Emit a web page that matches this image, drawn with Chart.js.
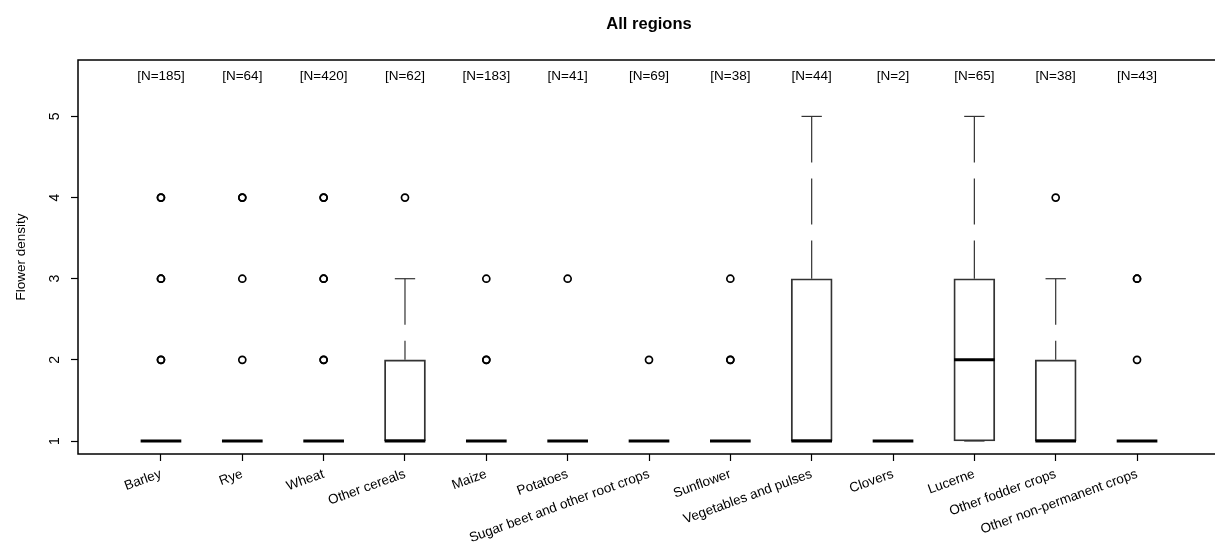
<!DOCTYPE html>
<html>
<head>
<meta charset="utf-8">
<title>All regions</title>
<script src="https://cdn.jsdelivr.net/npm/chart.js@4.4.1/dist/chart.umd.min.js"></script>
<style>
  html, body { margin: 0; padding: 0; background: #fff; overflow: hidden; }
  #wrap { position: relative; width: 1240px; height: 546px; }
</style>
</head>
<body>
<div id="wrap"><canvas id="boxChart"></canvas></div>
<script>
// Flower density by crop, all regions
const chartTitle = 'All regions';
const categories = ["Barley", "Rye", "Wheat", "Other cereals", "Maize", "Potatoes",
    "Sugar beet and other root crops", "Sunflower", "Vegetables and pulses", "Clovers",
    "Lucerne", "Other fodder crops", "Other non-permanent crops"];
const counts = [185, 64, 420, 62, 183, 41, 69, 38, 44, 2, 65, 38, 43];
const whiskerLow = [1, 1, 1, 1, 1, 1, 1, 1, 1, 1, 1, 1, 1];
const q1 = [1, 1, 1, 1, 1, 1, 1, 1, 1, 1, 1, 1, 1];
const medians = [1, 1, 1, 1, 1, 1, 1, 1, 1, 1, 2, 1, 1];
const q3 = [1, 1, 1, 2, 1, 1, 1, 1, 3, 1, 3, 2, 1];
const whiskerHigh = [1, 1, 1, 3, 1, 1, 1, 1, 5, 1, 5, 3, 1];
// repeated values overplot and show up darker
const outliers = [[2, 2, 3, 3, 4, 4], [2, 3, 4, 4], [2, 2, 3, 3, 4, 4], [4], [2, 2, 3], [3], [2],
    [2, 2, 3], [], [], [], [4], [2, 3, 3]];
const yTicks = [1, 2, 3, 4, 5];
const countLabelY = 5.5;

const FONT = "'Liberation Sans', Arial, Helvetica, sans-serif";
Chart.defaults.font.family = FONT;
Chart.defaults.color = '#000';

const boxPlot = {
    id: 'boxPlot',
    afterDatasetsDraw(chart) {
        const { ctx, scales: { x, y } } = chart;
        ctx.save();
        categories.forEach((name, i) => {
            const pos = i + 1;
            const cx = x.getPixelForValue(pos);
            const halfBox = x.getPixelForValue(pos + 0.25) - cx;
            const halfCap = halfBox / 2;

            // dashed whiskers, drawn from the whisker end towards the box
            ctx.strokeStyle = '#333';
            ctx.lineWidth = 1.2;
            ctx.setLineDash([46, 16]);
            [[whiskerHigh[i], q3[i]], [whiskerLow[i], q1[i]]].forEach(([end, edge]) => {
                if (end === edge) return;
                ctx.beginPath();
                ctx.moveTo(cx, y.getPixelForValue(end));
                ctx.lineTo(cx, y.getPixelForValue(edge));
                ctx.stroke();
            });
            ctx.setLineDash([]);

            // staples
            [whiskerHigh[i], whiskerLow[i]].forEach(v => {
                const py = y.getPixelForValue(v);
                ctx.beginPath();
                ctx.moveTo(cx - halfCap, py);
                ctx.lineTo(cx + halfCap, py);
                ctx.stroke();
            });

            // median
            ctx.strokeStyle = '#000';
            ctx.lineWidth = 3;
            const my = y.getPixelForValue(medians[i]);
            ctx.beginPath();
            ctx.moveTo(cx - halfBox, my);
            ctx.lineTo(cx + halfBox, my);
            ctx.stroke();

            // sample size above each box
            ctx.fillStyle = '#000';
            ctx.font = `13.5px ${FONT}`;
            ctx.textAlign = 'center';
            ctx.textBaseline = 'middle';
            ctx.fillText(`[N=${counts[i]}]`, cx, y.getPixelForValue(countLabelY));
        });
        ctx.restore();
    },
    afterDraw(chart) {
        const { ctx, chartArea: a } = chart;
        ctx.save();
        ctx.strokeStyle = '#000';
        ctx.lineWidth = 1.5;
        ctx.strokeRect(a.left, a.top, a.right - a.left, a.bottom - a.top);
        // title centred over the plotting region
        ctx.fillStyle = '#000';
        ctx.font = `bold 16.5px ${FONT}`;
        ctx.textAlign = 'center';
        ctx.textBaseline = 'middle';
        ctx.fillText(chartTitle, (a.left + a.right) / 2, 24);
        ctx.restore();
    }
};

new Chart(document.getElementById('boxChart'), {
    type: 'bar',
    data: {
        datasets: [{
            type: 'bar',
            data: categories.map((c, i) => ({ x: i + 1, y: [q1[i], q3[i]] })),
            backgroundColor: 'rgba(255,255,255,0)',
            borderColor: '#333',
            borderWidth: 1.2,
            borderSkipped: false,
            barThickness: 41,
            grouped: false
        }, {
            type: 'scatter',
            data: outliers.flatMap((vals, i) => vals.map(v => ({ x: i + 1, y: v }))),
            pointStyle: 'circle',
            pointRadius: 3.5,
            borderColor: '#000',
            backgroundColor: 'rgba(255,255,255,0)',
            borderWidth: 1.7
        }]
    },
    options: {
        responsive: true,
        maintainAspectRatio: false,
        animation: false,
        layout: { padding: { left: 0, right: 20, top: 60, bottom: 0 } },
        plugins: {
            legend: { display: false },
            tooltip: { enabled: false },
            title: { display: false }
        },
        scales: {
            x: {
                type: 'linear',
                offset: false,
                min: -0.02,
                max: 14.02,
                afterBuildTicks: s => { s.ticks = categories.map((c, i) => ({ value: i + 1 })); },
                afterFit: s => { s.height = 92; },
                ticks: {
                    callback: v => categories[Math.round(v) - 1],
                    autoSkip: false,
                    minRotation: 20,
                    maxRotation: 20,
                    padding: 5,
                    font: { size: 13.5 }
                },
                grid: { offset: false, drawOnChartArea: false, tickLength: 7, tickColor: '#000', tickWidth: 1.2 },
                border: { display: false }
            },
            y: {
                min: 0.84,
                max: 5.695,
                afterBuildTicks: s => { s.ticks = yTicks.map(v => ({ value: v })); },
                afterFit: s => { s.width = 78; },
                ticks: {
                    minRotation: 90,
                    maxRotation: 90,
                    crossAlign: 'center',
                    padding: 12,
                    font: { size: 14 }
                },
                title: {
                    display: true,
                    text: 'Flower density',
                    font: { size: 13.5 },
                    padding: { top: 13, bottom: 0 }
                },
                grid: { drawOnChartArea: false, tickLength: 7, tickColor: '#000', tickWidth: 1.2 },
                border: { display: false }
            }
        }
    },
    plugins: [boxPlot]
});
</script>
</body>
</html>
